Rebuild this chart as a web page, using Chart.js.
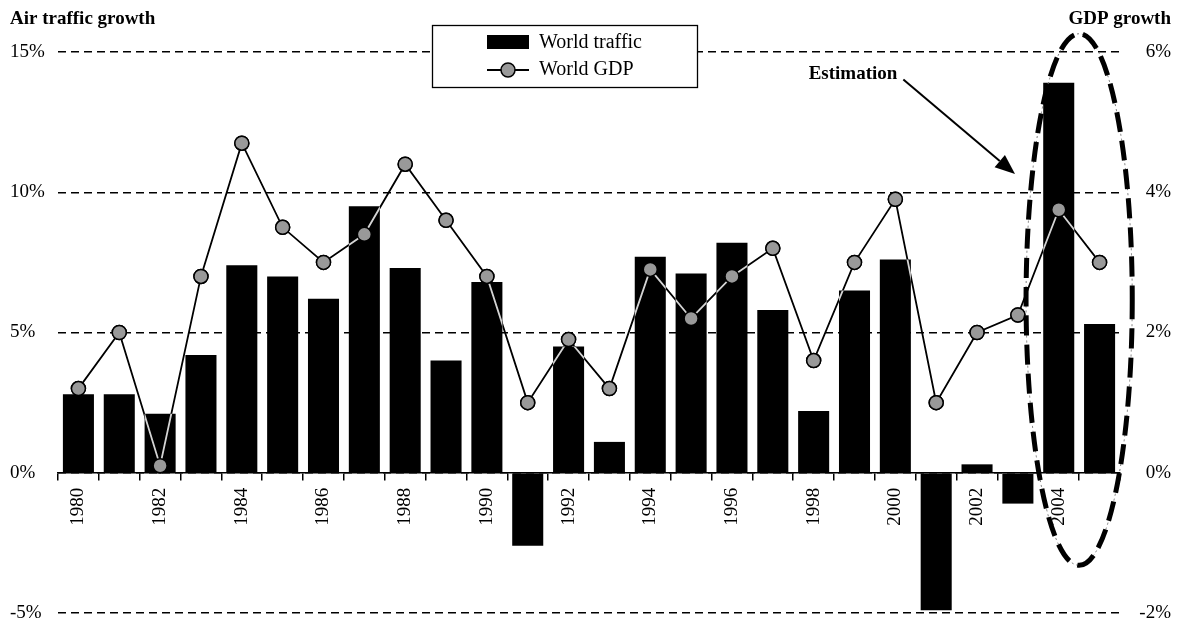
<!DOCTYPE html>
<html>
<head>
<meta charset="utf-8">
<script src="https://cdn.jsdelivr.net/npm/chart.js@4.4.1/dist/chart.umd.min.js"></script>
<style>
  html, body { margin: 0; padding: 0; background: #fff; }
  #wrap { width: 1179px; height: 622px; position: relative; }
</style>
</head>
<body>
<div id="wrap"><canvas id="c"></canvas></div>
<script>
// Yearly growth figures, 1980-2005
const years = ['1980','1981','1982','1983','1984','1985','1986','1987','1988','1989',
               '1990','1991','1992','1993','1994','1995','1996','1997','1998','1999',
               '2000','2001','2002','2003','2004','2005'];
// World air traffic growth (%), left axis
const worldTraffic = [2.8, 2.8, 2.1, 4.2, 7.4, 7.0, 6.2, 9.5, 7.3, 4.0,
                      6.8, -2.6, 4.5, 1.1, 7.7, 7.1, 8.2, 5.8, 2.2, 6.5,
                      7.6, -4.9, 0.3, -1.1, 13.9, 5.3];
// World GDP growth (%), right axis
const worldGdp = [1.2, 2.0, 0.1, 2.8, 4.7, 3.5, 3.0, 3.4, 4.4, 3.6,
                  2.8, 1.0, 1.9, 1.2, 2.9, 2.2, 2.8, 3.2, 1.6, 3.0,
                  3.9, 1.0, 2.0, 2.25, 3.75, 3.0];
const trafficTicks = [-5, 0, 5, 10, 15];
const gdpTicks = [-2, 0, 2, 4, 6];
const axisTitleLeft = 'Air traffic growth';
const axisTitleRight = 'GDP growth';
const noteText = 'Estimation';

const SERIF = "'Liberation Serif', 'Times New Roman', serif";
const FONT_SIZE = 19;

// Light trace of the GDP line where it crosses the black bars
const lineOverBars = {
  id: 'lineOverBars',
  afterDatasetsDraw(chart) {
    const ctx = chart.ctx;
    const bars = chart.getDatasetMeta(0).data;
    const pts = chart.getDatasetMeta(1).data;
    ctx.save();
    ctx.beginPath();
    bars.forEach(b => {
      const p = b.getProps(['x', 'y', 'base', 'width'], true);
      ctx.rect(p.x - p.width / 2, Math.min(p.y, p.base), p.width, Math.abs(p.base - p.y));
    });
    ctx.clip();
    ctx.beginPath();
    pts.forEach((p, i) => i ? ctx.lineTo(p.x, p.y) : ctx.moveTo(p.x, p.y));
    ctx.strokeStyle = '#d4d4d4';
    ctx.lineWidth = 1.8;
    ctx.stroke();
    ctx.restore();
    pts.forEach(p => p.draw(ctx, chart.chartArea));
  }
};

// Axis titles, legend box and the "Estimation" note
const decorations = {
  id: 'decorations',
  afterDraw(chart) {
    const ctx = chart.ctx;
    const xs = chart.scales.x, ys = chart.scales.y;
    const area = chart.chartArea;
    ctx.save();

    // axis titles
    ctx.fillStyle = '#000';
    ctx.font = `bold ${FONT_SIZE}px ${SERIF}`;
    ctx.textBaseline = 'middle';
    ctx.textAlign = 'left';
    ctx.fillText(axisTitleLeft, 10, 19);
    ctx.textAlign = 'right';
    ctx.fillText(axisTitleRight, chart.width - 8, 19);

    // legend
    const lx = area.left + 374, ly = 25, lw = 265, lh = 62;
    ctx.fillStyle = '#fff';
    ctx.fillRect(lx, ly, lw, lh);
    ctx.strokeStyle = '#000';
    ctx.lineWidth = 1.3;
    ctx.strokeRect(lx + 0.5, ly + 0.5, lw, lh);
    const ds = chart.data.datasets;
    const sx = lx + 55, sw = 42;
    ctx.fillStyle = '#000';
    ctx.fillRect(sx, ly + 10, sw, 14);
    ctx.beginPath();
    ctx.moveTo(sx, ly + 45); ctx.lineTo(sx + sw, ly + 45);
    ctx.lineWidth = 1.8; ctx.stroke();
    ctx.beginPath();
    ctx.arc(sx + sw / 2, ly + 45, 7, 0, Math.PI * 2);
    ctx.fillStyle = '#999'; ctx.fill();
    ctx.lineWidth = 1.5; ctx.stroke();
    ctx.fillStyle = '#000';
    ctx.font = `${FONT_SIZE + 1}px ${SERIF}`;
    ctx.textAlign = 'left';
    ctx.textBaseline = 'middle';
    ctx.fillText(ds[0].label, sx + sw + 10, ly + 18);
    ctx.fillText(ds[1].label, sx + sw + 10, ly + 45);

    // dashed ellipse round the estimated years
    const cx = (xs.getPixelForValue(24) + xs.getPixelForValue(25)) / 2;
    const step = xs.getPixelForValue(1) - xs.getPixelForValue(0);
    const rx = step * 1.3;
    const top = ys.getPixelForValue(15.65), bottom = ys.getPixelForValue(-3.3);
    const cy = (top + bottom) / 2, ry = (bottom - top) / 2;
    ctx.beginPath();
    ctx.ellipse(cx, cy, rx, ry, 0, 0, Math.PI * 2);
    ctx.setLineDash([2, 3]);
    ctx.strokeStyle = '#777';
    ctx.lineWidth = 1;
    ctx.stroke();
    ctx.beginPath();
    ctx.ellipse(cx, cy, rx, ry, 0, 0, Math.PI * 2);
    ctx.setLineDash([20, 9]);
    ctx.strokeStyle = '#000';
    ctx.lineWidth = 5;
    ctx.stroke();
    ctx.setLineDash([]);

    // note with arrow
    ctx.font = `bold ${FONT_SIZE}px ${SERIF}`;
    ctx.textAlign = 'right';
    ctx.fillStyle = '#000';
    const tx = xs.getPixelForValue(20) + 2, ty = ys.getPixelForValue(14.2);
    ctx.fillText(noteText, tx, ty);
    const ax0 = tx + 6, ay0 = ty + 5;
    const ax1 = xs.getPixelForValue(22.93), ay1 = ys.getPixelForValue(10.65);
    const ang = Math.atan2(ay1 - ay0, ax1 - ax0);
    const headLen = 20, headW = 8;
    const bx = ax1 - headLen * Math.cos(ang), by = ay1 - headLen * Math.sin(ang);
    ctx.beginPath();
    ctx.moveTo(ax0, ay0); ctx.lineTo(bx, by);
    ctx.lineWidth = 2; ctx.strokeStyle = '#000'; ctx.stroke();
    ctx.beginPath();
    ctx.moveTo(ax1, ay1);
    ctx.lineTo(bx + headW * Math.sin(ang), by - headW * Math.cos(ang));
    ctx.lineTo(bx - headW * Math.sin(ang), by + headW * Math.cos(ang));
    ctx.closePath();
    ctx.fill();

    ctx.restore();
  }
};

// Vertical axes: fixed width, no extra label padding above/below the plot
function fitVertical(width) {
  return s => { s.width = width; s.paddingTop = 0; s.paddingBottom = 0; };
}

new Chart(document.getElementById('c'), {
  data: {
    labels: years,
    datasets: [
      {
        type: 'bar',
        label: 'World traffic',
        data: worldTraffic,
        yAxisID: 'y',
        backgroundColor: '#000',
        borderWidth: 0,
        barPercentage: 0.76,
        categoryPercentage: 1,
        order: 2
      },
      {
        type: 'line',
        label: 'World GDP',
        data: worldGdp,
        yAxisID: 'y1',
        borderColor: '#000',
        borderWidth: 1.8,
        tension: 0,
        pointRadius: 7,
        pointBackgroundColor: '#999',
        pointBorderColor: '#000',
        pointBorderWidth: 1.5,
        order: 1
      }
    ]
  },
  options: {
    responsive: true,
    maintainAspectRatio: false,
    animation: false,
    devicePixelRatio: 1,
    layout: { padding: { left: 10, right: 8, top: 52, bottom: 9 } },
    plugins: { legend: { display: false }, tooltip: { enabled: false } },
    scales: {
      x: {
        type: 'category',
        position: { y: 0 },
        grid: {
          drawOnChartArea: false,
          drawTicks: true,
          offset: true,
          tickLength: 7,
          color: '#000',
          lineWidth: 1.5
        },
        border: { display: true, color: '#000', width: 1.6 },
        ticks: {
          autoSkip: false,
          minRotation: 90,
          maxRotation: 90,
          padding: 8,
          color: '#000',
          font: { family: SERIF, size: FONT_SIZE },
          callback(v, i) { return i % 2 === 0 ? years[i] : ''; }
        }
      },
      y: {
        position: 'left',
        min: -5,
        max: 15,
        afterBuildTicks(s) { s.ticks = trafficTicks.map(v => ({ value: v })); },
        afterFit: fitVertical(48),
        grid: { color: '#000', lineWidth: 1.5, drawTicks: false },
        border: { display: false, dash: [8, 5] },
        ticks: {
          crossAlign: 'far',
          padding: 0,
          color: '#000',
          font: { family: SERIF, size: FONT_SIZE },
          callback: v => v + '%'
        }
      },
      y1: {
        position: 'right',
        min: -2,
        max: 6,
        afterBuildTicks(s) { s.ticks = gdpTicks.map(v => ({ value: v })); },
        afterFit: fitVertical(51),
        grid: { drawOnChartArea: false, drawTicks: false },
        border: { display: false },
        ticks: {
          crossAlign: 'far',
          padding: 0,
          color: '#000',
          font: { family: SERIF, size: FONT_SIZE },
          callback: v => v + '%'
        }
      }
    }
  },
  plugins: [lineOverBars, decorations]
});
</script>
</body>
</html>
